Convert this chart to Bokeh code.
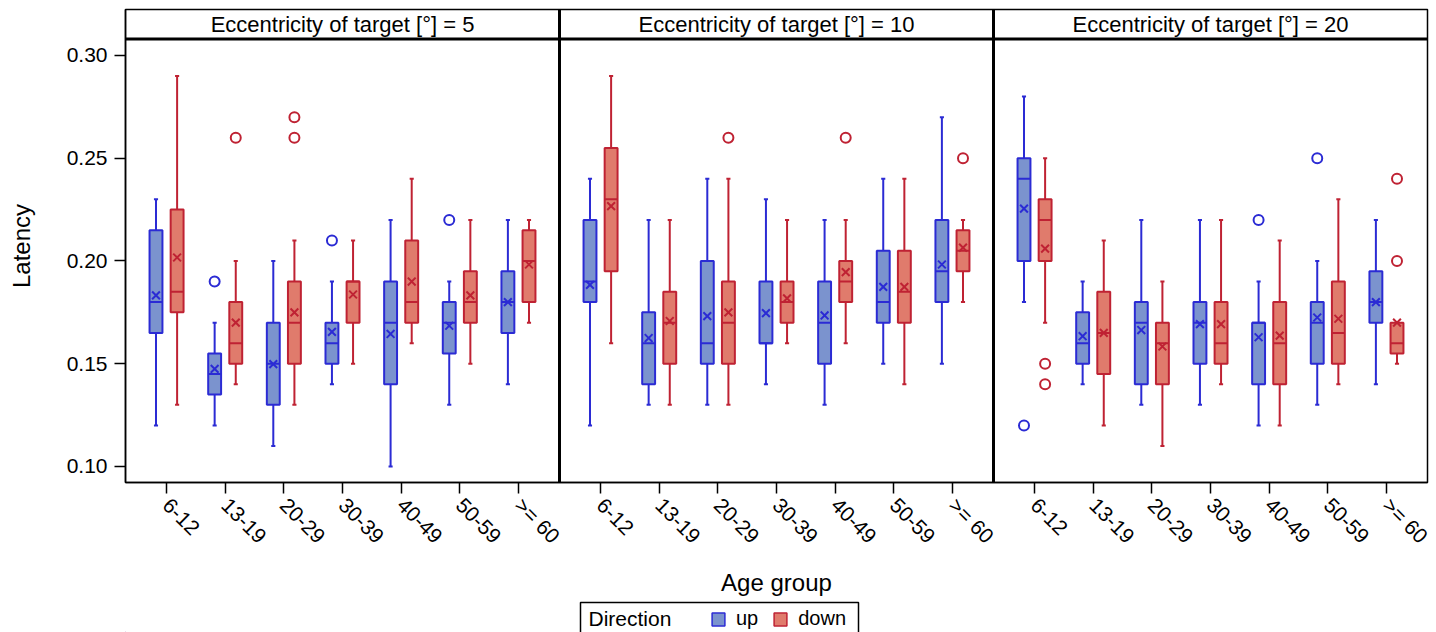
import math
from bokeh.plotting import figure
from bokeh.layouts import column
from bokeh.models import (FixedTicker, Legend, LegendItem, Range1d,
                          NumeralTickFormatter)
from bokeh.core.properties import value
from bokeh.embed import file_html
from bokeh.resources import INLINE

# ---------------- data ----------------
eccentricities = ["5", "10", "20"]
age_groups = ["6-12", "13-19", "20-29", "30-39", "40-49", "50-59", ">= 60"]
y_ticks = [0.10, 0.15, 0.20, 0.25, 0.30]
directions = ["up", "down"]

# 21 entries each: eccentricity 5 (7 age groups), 10, 20
up_low  = [0.12, 0.12, 0.11, 0.14, 0.10, 0.13, 0.14,
           0.12, 0.13, 0.13, 0.14, 0.13, 0.15, 0.15,
           0.18, 0.14, 0.13, 0.13, 0.12, 0.13, 0.14]
up_q1   = [0.165, 0.135, 0.13, 0.15, 0.14, 0.155, 0.165,
           0.18, 0.14, 0.15, 0.16, 0.15, 0.17, 0.18,
           0.20, 0.15, 0.14, 0.15, 0.14, 0.15, 0.17]
up_med  = [0.18, 0.145, 0.15, 0.16, 0.17, 0.17, 0.18,
           0.19, 0.16, 0.16, 0.16, 0.17, 0.18, 0.195,
           0.24, 0.16, 0.17, 0.17, 0.17, 0.17, 0.18]
up_q3   = [0.215, 0.155, 0.17, 0.17, 0.19, 0.18, 0.195,
           0.22, 0.175, 0.20, 0.19, 0.19, 0.205, 0.22,
           0.25, 0.175, 0.18, 0.18, 0.17, 0.18, 0.195]
up_high = [0.23, 0.17, 0.20, 0.19, 0.22, 0.19, 0.22,
           0.24, 0.22, 0.24, 0.23, 0.22, 0.24, 0.27,
           0.28, 0.19, 0.22, 0.22, 0.19, 0.20, 0.22]
up_mean = [0.1833, 0.1475, 0.1498, 0.1655, 0.1645, 0.1685, 0.180,
           0.1884, 0.1625, 0.1732, 0.1746, 0.1735, 0.1874, 0.1983,
           0.2255, 0.1634, 0.1664, 0.1693, 0.1629, 0.1725, 0.180]
up_out_idx = [1, 3, 5, 14, 18, 19]
up_out_val = [0.19, 0.21, 0.22, 0.12, 0.22, 0.25]

down_low  = [0.13, 0.14, 0.13, 0.15, 0.16, 0.15, 0.17,
             0.16, 0.13, 0.13, 0.16, 0.16, 0.14, 0.18,
             0.17, 0.12, 0.11, 0.14, 0.12, 0.14, 0.15]
down_q1   = [0.175, 0.15, 0.15, 0.17, 0.17, 0.17, 0.18,
             0.195, 0.15, 0.15, 0.17, 0.18, 0.17, 0.195,
             0.20, 0.145, 0.14, 0.15, 0.14, 0.15, 0.155]
down_med  = [0.185, 0.16, 0.17, 0.19, 0.18, 0.18, 0.20,
             0.23, 0.17, 0.17, 0.18, 0.19, 0.185, 0.205,
             0.22, 0.165, 0.16, 0.16, 0.16, 0.165, 0.16]
down_q3   = [0.225, 0.18, 0.19, 0.19, 0.21, 0.195, 0.215,
             0.255, 0.185, 0.19, 0.19, 0.20, 0.205, 0.215,
             0.23, 0.185, 0.17, 0.18, 0.18, 0.19, 0.17]
down_high = [0.29, 0.20, 0.21, 0.21, 0.24, 0.22, 0.22,
             0.29, 0.22, 0.24, 0.22, 0.22, 0.24, 0.22,
             0.25, 0.21, 0.19, 0.22, 0.21, 0.23, 0.17]
down_mean = [0.2017, 0.170, 0.175, 0.1837, 0.190, 0.1833, 0.1983,
             0.2267, 0.1708, 0.175, 0.1818, 0.1946, 0.1874, 0.2065,
             0.2060, 0.165, 0.1584, 0.1693, 0.1637, 0.1719, 0.170]
down_out_idx = [1, 2, 2, 9, 11, 13, 14, 14, 20, 20]
down_out_val = [0.26, 0.27, 0.26, 0.26, 0.26, 0.25, 0.15, 0.14, 0.24, 0.20]

# ---------------- layout constants ----------------
CAT = 10          # x units per age group
PAD = 7           # x units from panel edge to first group
PANEL = 74        # x units per panel
OFF = 1.8         # offset of each direction from group centre
BOXW = 2.2
CAPW = 0.7
LWID = 2
Y0, Y1 = 0.09221, 0.32238
HEADER_Y = 0.30803

W = 1436
FL, FR = 125, 1427          # frame left / right in page pixels
MAIN_H, LEG_H = 598, 34

FONT = "Liberation Sans"
UP_FILL, UP_LINE = "#7B93CE", "#2B2BD4"
DN_FILL, DN_LINE = "#E07B6C", "#BF2233"

n_age = len(age_groups)
centers = [PANEL * (i // n_age) + PAD + CAT * (i % n_age)
           for i in range(n_age * len(eccentricities))]
x_end = PANEL * len(eccentricities)

p = figure(width=W, height=MAIN_H, output_backend="svg", toolbar_location=None,
           x_range=Range1d(0, x_end), y_range=Range1d(Y0, Y1),
           min_border_left=FL, min_border_right=W - FR, min_border_top=9,
           min_border_bottom=116)
p.background_fill_color = "white"
p.border_fill_color = "white"
p.outline_line_color = "black"
p.outline_line_width = 1.5
p.xgrid.visible = False
p.ygrid.visible = False

# structural lines: header divider and panel separators
p.segment(x0=[0], x1=[x_end], y0=[HEADER_Y], y1=[HEADER_Y],
          line_color="black", line_width=3)
seps = [PANEL * k for k in range(1, len(eccentricities))]
p.segment(x0=seps, x1=seps, y0=[Y0] * len(seps), y1=[Y1] * len(seps),
          line_color="black", line_width=3)

# header texts
hx = [PANEL * k + PANEL / 2 for k in range(len(eccentricities))]
p.text(x=hx, y=[(HEADER_Y + Y1) / 2] * len(hx),
       text=[f"Eccentricity of target [°] = {e}" for e in eccentricities],
       text_align="center", text_baseline="middle",
       text_font=value(FONT), text_font_size="22px", text_color="black")


def draw(xs, low, q1, med, q3, high, mean, oidx, oval, fill, line):
    hw = BOXW / 2
    cw = CAPW / 2
    p.segment(x0=xs, x1=xs, y0=q3, y1=high, line_color=line, line_width=LWID)
    p.segment(x0=xs, x1=xs, y0=q1, y1=low, line_color=line, line_width=LWID)
    p.segment(x0=[x - cw for x in xs], x1=[x + cw for x in xs], y0=high, y1=high,
              line_color=line, line_width=LWID)
    p.segment(x0=[x - cw for x in xs], x1=[x + cw for x in xs], y0=low, y1=low,
              line_color=line, line_width=LWID)
    p.vbar(x=xs, width=BOXW, top=q3, bottom=q1, fill_color=fill,
           line_color=line, line_width=LWID)
    p.segment(x0=[x - hw for x in xs], x1=[x + hw for x in xs], y0=med, y1=med,
              line_color=line, line_width=LWID)
    p.scatter(x=xs, y=mean, marker="x", size=11, line_color=line, line_width=2)
    p.scatter(x=[xs[i] for i in oidx], y=oval, marker="circle", size=10,
              fill_alpha=0, line_color=line, line_width=2)


draw([c - OFF for c in centers], up_low, up_q1, up_med, up_q3, up_high,
     up_mean, up_out_idx, up_out_val, UP_FILL, UP_LINE)
draw([c + OFF for c in centers], down_low, down_q1, down_med, down_q3,
     down_high, down_mean, down_out_idx, down_out_val, DN_FILL, DN_LINE)

# axes
xa = p.xaxis[0]
xa.ticker = FixedTicker(ticks=centers)
xa.major_label_overrides = {c: age_groups[i % n_age] for i, c in enumerate(centers)}
xa.major_label_orientation = -math.pi / 4
xa.axis_label = "Age group"
ya = p.yaxis[0]
ya.ticker = FixedTicker(ticks=y_ticks)
ya.formatter = NumeralTickFormatter(format="0.00")
ya.axis_label = "Latency"
for ax in (xa, ya):
    ax.minor_tick_line_color = None
    ax.major_tick_in = 0
    ax.major_tick_out = 11
    ax.major_tick_line_width = 1.5
    ax.axis_line_width = 1.5
    ax.major_label_text_font = FONT
    ax.major_label_text_font_size = "21px"
    ax.major_label_text_color = "black"
    ax.axis_label_text_font = FONT
    ax.axis_label_text_font_size = "24px"
    ax.axis_label_text_font_style = "normal"
    ax.axis_label_text_color = "black"
xa.major_label_standoff = 8
xa.axis_label_standoff = 10
ya.major_label_standoff = 7
ya.axis_label_standoff = 29

# ---------------- legend strip (x in page pixels, frame aligned with p) ----
q = figure(width=W, height=LEG_H, output_backend="svg", toolbar_location=None,
           x_range=Range1d(FL, FR), y_range=Range1d(0, LEG_H),
           x_axis_location=None, y_axis_location=None,
           min_border_left=FL, min_border_right=W - FR, min_border_top=0,
           min_border_bottom=0)
q.outline_line_color = None
q.xgrid.visible = False
q.ygrid.visible = False
q.background_fill_color = "white"
q.border_fill_color = "white"
q.quad(left=[580], right=[858], top=[30], bottom=[-3], fill_color="white",
       line_color="black", line_width=1.5)
q.text(x=[588], y=[14], text=["Direction"], text_align="left",
       text_baseline="middle", text_font=value(FONT), text_font_size="21px",
       text_color="black")
# renderers used only for the legend swatches (placed far outside the view)
r_up = q.vbar(x=[-5000], top=[-1000], bottom=[-1001], width=1, fill_color=UP_FILL,
              line_color=UP_LINE, line_width=1.5)
r_dn = q.vbar(x=[-5000], top=[-1000], bottom=[-1001], width=1, fill_color=DN_FILL,
              line_color=DN_LINE, line_width=1.5)
legend = Legend(items=[LegendItem(label=directions[0], renderers=[r_up]),
                       LegendItem(label=directions[1], renderers=[r_dn])],
                orientation="horizontal", location=(710 - FL, 2))
legend.label_text_font = FONT
legend.label_text_font_size = "20px"
legend.label_text_color = "black"
legend.glyph_width = 16
legend.glyph_height = 16
legend.label_standoff = 10
legend.spacing = 14
legend.padding = 0
legend.margin = 0
legend.border_line_alpha = 0
legend.background_fill_alpha = 0
q.add_layout(legend)

layout = column(p, q, spacing=0)
open("out.html", "w").write(file_html(layout, INLINE))
